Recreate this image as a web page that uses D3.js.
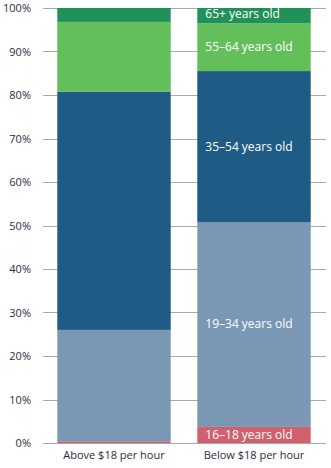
<!DOCTYPE html>
<html>
<head>
<meta charset="utf-8">
<script src="https://cdn.jsdelivr.net/npm/d3@7"></script>
<style>
  body { margin: 0; background: #fff; }
  svg text { font-family: "Open Sans", "DejaVu Sans", sans-serif; }
</style>
</head>
<body>
<script>
var categories = ["Above $18 per hour", "Below $18 per hour"];
var groups = ["16\u201318 years old", "19\u201334 years old", "35\u201354 years old", "55\u201364 years old", "65+ years old"];
var above = [0.4, 25.6, 54.8, 16.0, 3.2];
var below = [3.7, 47.1, 34.7, 11.0, 3.5];
var colors = ["#d0606e", "#7a97b4", "#1f5c85", "#63bf5a", "#21915a"];
var ticks = [0, 10, 20, 30, 40, 50, 60, 70, 80, 90, 100];

var width = 331, height = 468;
var margin = {top: 8, right: 5, bottom: 25, left: 43};

var svg = d3.select('body')
            .append('svg')
            .attr('width', width)
            .attr('height', height);

var yScale = d3.scaleLinear()
               .domain([0, 100])
               .range([height - margin.bottom, margin.top]);

var xScale = d3.scaleBand()
               .domain(categories)
               .range([margin.left + 1, width - margin.right - 2])
               .paddingInner(0.19)
               .paddingOuter(0.095);

// gridlines
svg.append('g')
   .selectAll('line')
   .data(ticks)
   .enter()
   .append('line')
   .attr('x1', margin.left)
   .attr('x2', width - margin.right)
   .attr('y1', function(d){ return Math.round(yScale(d)) + 0.5; })
   .attr('y2', function(d){ return Math.round(yScale(d)) + 0.5; })
   .attr('stroke', '#a9a9a9')
   .attr('stroke-width', 1);

var yAxis = d3.axisLeft(yScale)
              .tickValues(ticks)
              .tickSize(0)
              .tickPadding(0)
              .tickFormat(function(d){ return d + '%'; });

var gy = svg.append('g')
   .attr('transform', 'translate(31,0)')
   .call(yAxis);
gy.select('.domain').remove();
gy.selectAll('text')
  .attr('font-size', '11px')
  .attr('fill', '#2b2b3a')
  .attr('font-family', '"Open Sans", sans-serif');

// stack each bar's segments bottom to top
var series = [above, below];
var stacked = series.map(function(vals){
  var acc = 0;
  return vals.map(function(v, i){
    var s = {y0: acc, y1: acc + v, i: i};
    acc += v;
    return s;
  });
});

var barGroups = svg.selectAll('.bar')
   .data(stacked)
   .enter()
   .append('g')
   .attr('class', 'bar')
   .attr('transform', function(d, i){ return 'translate(' + xScale(categories[i]) + ',0)'; });

barGroups.selectAll('rect')
   .data(function(d){ return d; })
   .enter()
   .append('rect')
   .attr('x', 0)
   .attr('y', function(d){ return yScale(d.y1); })
   .attr('width', xScale.bandwidth())
   .attr('height', function(d){ return yScale(d.y0) - yScale(d.y1); })
   .attr('fill', function(d){ return colors[d.i]; });

// segment labels on the second bar (offset down from segment top)
var labelDy = [12, 106, 80, 28, 10];
svg.append('g')
   .selectAll('text')
   .data(stacked[1])
   .enter()
   .append('text')
   .attr('x', xScale(categories[1]) + 8)
   .attr('y', function(d){ return yScale(d.y1) + labelDy[d.i]; })
   .attr('fill', '#fff')
   .attr('font-size', '12px')
   .text(function(d){ return groups[d.i]; });

// category labels
svg.append('g')
   .selectAll('text')
   .data(categories)
   .enter()
   .append('text')
   .attr('x', function(d){ return xScale(d) + xScale.bandwidth() / 2; })
   .attr('y', height - 9)
   .attr('text-anchor', 'middle')
   .attr('font-size', '11px')
   .attr('fill', '#2b2b3a')
   .text(function(d){ return d; });
</script>
</body>
</html>
